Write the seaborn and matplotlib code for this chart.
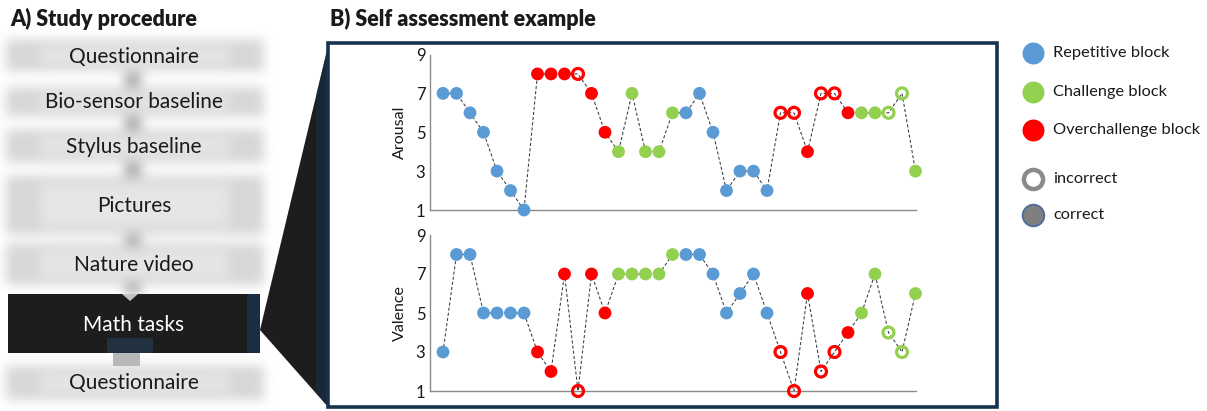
import numpy as np
import pandas as pd
import matplotlib
matplotlib.use("Agg")
import matplotlib.pyplot as plt
import seaborn as sns
from matplotlib.patches import Polygon, Rectangle

# ---------------- data ----------------
trial = list(range(36))
arousal = [7, 7, 6, 5, 3, 2, 1, 8, 8, 8, 8, 7, 5, 4, 7, 4, 4, 6,
           6, 7, 5, 2, 3, 3, 2, 6, 6, 4, 7, 7, 6, 6, 6, 6, 7, 3]
valence = [3, 8, 8, 5, 5, 5, 5, 3, 2, 7, 1, 7, 5, 7, 7, 7, 7, 8,
           8, 8, 7, 5, 6, 7, 5, 3, 1, 6, 2, 3, 4, 5, 7, 4, 3, 6]
block = (["Repetitive"] * 7 + ["Overchallenge"] * 6 + ["Challenge"] * 5 +
         ["Repetitive"] * 7 + ["Overchallenge"] * 6 + ["Challenge"] * 5)
answer = ["correct"] * 10 + ["incorrect"] + ["correct"] * 14 + \
         ["incorrect", "incorrect", "correct", "incorrect", "incorrect",
          "correct", "correct", "correct", "incorrect", "incorrect", "correct"]
steps = ["Questionnaire", "Bio-sensor baseline", "Stylus baseline",
         "Pictures", "Nature video", "Math tasks", "Questionnaire"]
legend_labels = ["Repetitive block", "Challenge block", "Overchallenge block",
                 "incorrect", "correct"]
yticks = [1, 3, 5, 7, 9]

pal = {"Repetitive": "#5B9BD5", "Challenge": "#92D050", "Overchallenge": "#FF0000"}
df = pd.DataFrame({"trial": trial, "Arousal": arousal, "Valence": valence,
                   "block": block, "answer": answer})

sns.set_theme(style="white")
plt.rcParams["font.family"] = ["Lato", "DejaVu Sans"]

W, H = 1207, 411
fig = plt.figure(figsize=(W / 100, H / 100), dpi=100)

# ---------------- background / decoration (pixel coords) ----------------
bg = fig.add_axes([0, 0, 1, 1])
bg.axis("off")

# blurred flow bands (left panel)
img = np.ones((H, 290))
bands = [(40, 72), (88, 117), (130, 163), (176, 235), (244, 285), (366, 400)]
for y0, y1 in bands:
    img[y0:y1, 6:264] = 0.84
    img[y0 + 8:y1 - 8, 40:230] = 0.90
arrows = [(74, 87), (118, 130), (164, 176), (236, 245), (285, 294)]
for y0, y1 in arrows:
    img[y0:y1, 125:141] = 0.64
sig = 5.5
r = 18
k = np.exp(-0.5 * (np.arange(-r, r + 1) / sig) ** 2)
k /= k.sum()
pad = np.pad(img, r, mode="edge")
pad = np.apply_along_axis(lambda v: np.convolve(v, k, mode="valid"), 1, pad)
pad = np.apply_along_axis(lambda v: np.convolve(v, k, mode="valid"), 0, pad)
img = pad
bg.imshow(img, cmap="gray", vmin=0, vmax=1, extent=(0, 290, H, 0),
          aspect="auto", interpolation="bilinear", zorder=0)
bg.set_xlim(0, W)
bg.set_ylim(H, 0)

# Math tasks box and the zoom wedge
bg.add_patch(Polygon([(329, 42), (260, 330), (329, 408)], closed=True,
                     facecolor="#1d1d1d", edgecolor="none", zorder=1))
bg.add_patch(Polygon([(329, 42), (316, 96), (316, 393), (329, 408)], closed=True,
                     facecolor="#17324d", edgecolor="none", alpha=0.55, zorder=1))
bg.add_patch(Rectangle((8, 294), 252, 59, facecolor="#1d1d1d", edgecolor="none", zorder=2))
bg.add_patch(Rectangle((247, 294), 13, 59, facecolor="#1b2d40", edgecolor="none", zorder=2))
bg.add_patch(Rectangle((107, 338), 46, 15, facecolor="#22313f", edgecolor="none", zorder=2))
bg.add_patch(Rectangle((113, 353), 27, 13, facecolor="#b8b8b8", edgecolor="none", zorder=2))
bg.add_patch(Polygon([(122, 294), (138, 294), (130, 301)], closed=True,
                     facecolor="#c4c4c4", edgecolor="none", zorder=3))

# panel B frame
bg.add_patch(Rectangle((328, 43.5), 669, 363, facecolor="white",
                       edgecolor="#17324c", linewidth=2.6, zorder=2))

# left-panel texts
ys = [57, 102, 147, 206, 265, 325, 383]
for s, y in zip(steps, ys):
    bg.text(134, y, s, ha="center", va="center", fontsize=15,
            color="white" if s == "Math tasks" else "#1a1a1a", zorder=5)

bg.text(10, 19, "A) Study procedure", ha="left", va="center", fontsize=15.5,
        fontweight="heavy", color="#1a1a1a", zorder=5)
bg.text(330, 19, "B) Self assessment example", ha="left", va="center", fontsize=15.5,
        fontweight="heavy", color="#1a1a1a", zorder=5)

# legend (manual, pixel coords)
leg_y = [53, 92, 130, 179, 215]
leg_fc = [pal["Repetitive"], pal["Challenge"], pal["Overchallenge"], "white", "#7f7f7f"]
leg_ec = [pal["Repetitive"], pal["Challenge"], pal["Overchallenge"], "#8a8a8a", "#4f6f9a"]
leg_lw = [0, 0, 0, 3.2, 1.4]
leg_s = [250, 250, 250, 190, 240]
for lab, y, fc, ec, lw, s in zip(legend_labels, leg_y, leg_fc, leg_ec, leg_lw, leg_s):
    bg.scatter([1033], [y], s=s, facecolor=fc, edgecolor=ec, linewidth=lw, zorder=5)
    bg.text(1053, y, lab, ha="left", va="center", fontsize=11.8, color="#1a1a1a", zorder=5)

# ---------------- data axes ----------------
ax1 = fig.add_axes([429.5 / W, 1 - 210 / H, 486 / W, 155.5 / H])
ax2 = fig.add_axes([429.5 / W, 1 - 391 / H, 486 / W, 156 / H])


def draw(ax, col):
    ax.set_facecolor("none")
    sns.lineplot(data=df, x="trial", y=col, ax=ax, color="#3a3a3a", linewidth=0.75,
                 linestyle=(0, (3, 2)), zorder=1, legend=False)
    ok = df[df["answer"] == "correct"]
    bad = df[df["answer"] == "incorrect"]
    sns.scatterplot(data=ok, x="trial", y=col, hue="block", palette=pal, s=85,
                    linewidth=0, ax=ax, legend=False, zorder=3, clip_on=False)
    sns.scatterplot(data=bad, x="trial", y=col, hue="block", palette=pal, s=62,
                    linewidth=2.3, ax=ax, legend=False, zorder=3, clip_on=False)
    coll = ax.collections[-1]
    coll.set_edgecolors(coll.get_facecolors())
    coll.set_facecolors("none")
    ax.set_xlim(-1, 35)
    ax.set_ylim(1, 9)
    ax.set_yticks(yticks)
    ax.set_xticks([])
    ax.set_xlabel("")
    ax.set_ylabel(col, fontsize=11.5, color="#1a1a1a", labelpad=6)
    ax.tick_params(axis="y", length=0, pad=3, labelsize=12, labelcolor="#1a1a1a")
    for sp in ["top", "right"]:
        ax.spines[sp].set_visible(False)
    for sp in ["left", "bottom"]:
        ax.spines[sp].set_color("#8c8c8c")
        ax.spines[sp].set_linewidth(1.0)


draw(ax1, "Arousal")
draw(ax2, "Valence")

fig.savefig("out.png", dpi=100)
